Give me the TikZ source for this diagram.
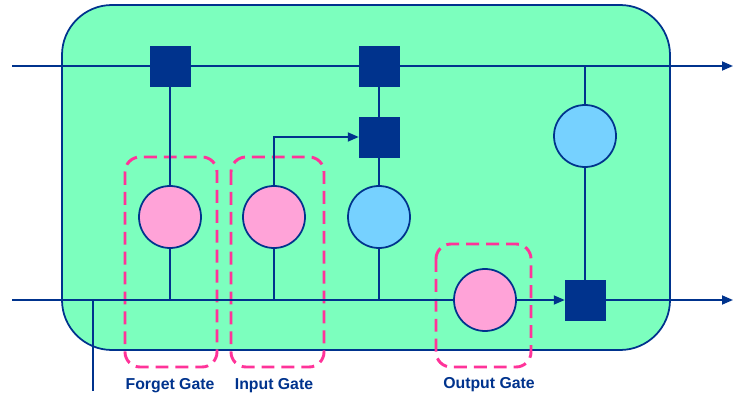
\documentclass[tikz,border=0pt]{standalone}
\usepackage{fontspec}
\setmainfont{Liberation Sans}
\usepackage{tikz}
\usetikzlibrary{positioning, arrows.meta}

\definecolor{cellgreen}{RGB}{124,255,190}
\definecolor{lineblue}{RGB}{0,51,141}
\definecolor{gatepink}{RGB}{255,163,216}
\definecolor{tanhblue}{RGB}{118,209,255}
\definecolor{dashpink}{RGB}{255,51,153}

\tikzset{
  mult/.style={draw=lineblue, fill=lineblue, minimum size=1.2cm, inner sep=0pt},
  sigm/.style={circle, draw=lineblue, line width=1.5pt, fill=gatepink, minimum size=1.86cm, inner sep=0pt},
  tanhc/.style={circle, draw=lineblue, line width=1.5pt, fill=tanhblue, minimum size=1.86cm, inner sep=0pt},
  wire/.style={lineblue, line width=1.5pt},
  gatebox/.style={dashpink, line width=2.5pt, dash pattern=on 11pt off 6pt, rounded corners=0.45cm},
  gatelabel/.style={text=lineblue, font=\fontsize{13.5}{16}\selectfont\bfseries}
}

\begin{document}
\begin{tikzpicture}[x=0.03cm, y=-0.03cm, >={Triangle[length=0.33cm, width=0.27cm]}]

\useasboundingbox (0,0) rectangle (734,397);

% Cell body
\draw[lineblue, line width=1.5pt, fill=cellgreen, rounded corners=1.5cm] (62,5) rectangle (670,350);

% Gate groups
\draw[gatebox] (125,157) rectangle (217,367);
\draw[gatebox] (231,157) rectangle (324,367);
\draw[gatebox] (436,244) rectangle (531,367);

% Free ends of the two long lines
\coordinate (tin) at (12,66);
\coordinate (tout) at (733,66);
\coordinate (bin) at (12,300);
\coordinate (bout) at (733,300);
\coordinate (xin) at (93,391);
\coordinate (xjoin) at (93,300);

% Pointwise products
\node[mult] (fmul) at (170,66) {};
\node[mult] (imul) at (379,66) {};
\node[mult] (cmul) at (379,137) {};
\node[mult] (omul) at (585,300) {};

% Layers
\node[sigm] (fgate) at (170,217) {};
\node[sigm] (igate) at (274,217) {};
\node[tanhc] (cgate) at (379,217) {};
\node[sigm] (ogate) at (485,300) {};
\node[tanhc] (otanh) at (585,136) {};

% Cell state line
\draw[wire, ->] (tin) -- (fmul) -- (imul) -- (tout);

% Hidden state / input line
\draw[wire] (bin) -- (ogate.west);
\draw[wire, ->] (ogate.east) -- (omul.west);
\draw[wire, ->] (omul.east) -- (bout);
\draw[wire] (xin) -- (xjoin);

% Vertical links
\draw[wire] (fgate) -- (fmul);
\draw[wire] (fgate.south) -- (fgate.south |- bin);
\draw[wire] (igate.south) -- (igate.south |- bin);
\draw[wire, ->] (igate.north) |- (cmul.west);
\draw[wire] (cgate.south) -- (cgate.south |- bin);
\draw[wire] (cgate) -- (cmul);
\draw[wire] (cmul) -- (imul);
\draw[wire] (otanh.north) -- (otanh.north |- tin);
\draw[wire] (otanh) -- (omul);

% Labels
\node[gatelabel] (flabel) at (170,386) {Forget Gate};
\node[gatelabel] (ilabel) at (274,386) {Input Gate};
\node[gatelabel] (olabel) at (489,385) {Output Gate};

\end{tikzpicture}
\end{document}
